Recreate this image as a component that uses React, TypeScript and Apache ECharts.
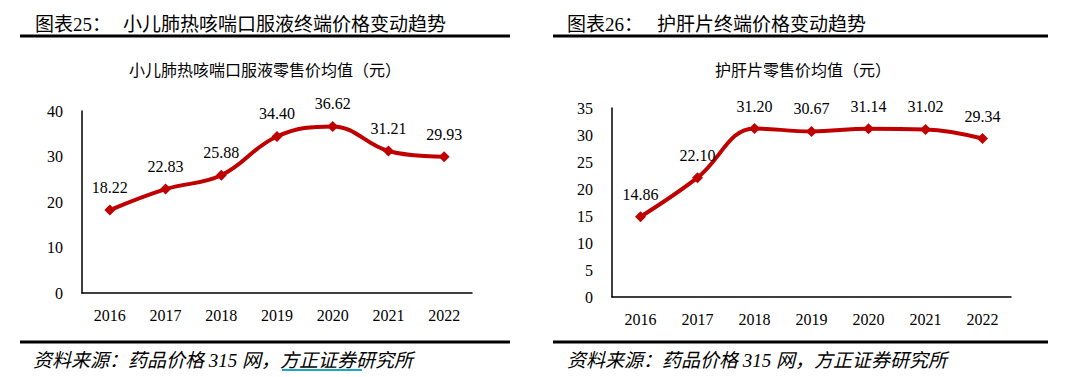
import React, { useEffect, useRef } from "react";
import * as echarts from "echarts";

const years = ["2016", "2017", "2018", "2019", "2020", "2021", "2022"];
const leftValues = [18.22, 22.83, 25.88, 34.4, 36.62, 31.21, 29.93];
const rightValues = [14.86, 22.1, 31.2, 30.67, 31.14, 31.02, 29.34];
const leftTitle = "图表25：";
const leftTitleText = "小儿肺热咳喘口服液终端价格变动趋势";
const rightTitle = "图表26：";
const rightTitleText = "护肝片终端价格变动趋势";
const leftSubtitle = "小儿肺热咳喘口服液零售价均值（元）";
const rightSubtitle = "护肝片零售价均值（元）";
const sourcePre = "资料来源：药品价格 315 网，";
const sourceLink = "方正证券";
const sourcePost = "研究所";

const FONT = "'Liberation Serif', 'Noto Sans CJK SC', serif";

export default function App() {
  const ref = useRef<HTMLDivElement>(null);
  useEffect(() => {
    document.body.style.margin = "0";
    const chart = echarts.init(ref.current!, undefined, { renderer: "svg" });
    const axisLabel = { color: "#000", fontSize: 16, fontFamily: FONT };
    const mkSeries = (data: number[], idx: number) => ({
      type: "line",
      xAxisIndex: idx,
      yAxisIndex: idx,
      data,
      smooth: 0.4,
      symbol: "diamond",
      symbolSize: 11,
      itemStyle: { color: "#C00000" },
      lineStyle: { color: "#C00000", width: 4 },
      label: {
        show: true,
        position: "top",
        distance: 9,
        color: "#000",
        fontSize: 16,
        fontFamily: FONT,
        formatter: (p: any) => p.value.toFixed(2),
      },
    });
    const xAxis = (idx: number) => ({
      type: "category",
      gridIndex: idx,
      data: years,
      axisLine: { lineStyle: { color: "#000", width: 1.5 } },
      axisTick: { show: false },
      axisLabel: { ...axisLabel, margin: 14 },
    });
    const yAxis = (idx: number, max: number, interval: number) => ({
      type: "value",
      gridIndex: idx,
      min: 0,
      max,
      interval,
      axisLine: { show: true, lineStyle: { color: "#000", width: 1.5 } },
      axisTick: { show: false },
      splitLine: { show: false },
      axisLabel: { ...axisLabel, margin: 19 },
    });
    const headerText = (x: number, text: string, size = 19) => ({
      type: "text",
      x,
      y: 24,
      style: { text, fontSize: size, fontFamily: FONT, fill: "#000", verticalAlign: "middle" },
    });
    const line = (x1: number, x2: number, y: number) => ({
      type: "line",
      shape: { x1, y1: y, x2, y2: y },
      style: { stroke: "#000", lineWidth: 3 },
    });
    const footer = (x: number, withUnderline: boolean) => {
      const els: any[] = [
        {
          type: "text",
          x,
          y: 360,
          style: {
            text: sourcePre + sourceLink + sourcePost,
            fontSize: 19,
            fontStyle: "italic",
            fontFamily: FONT,
            fill: "#000",
            verticalAlign: "middle",
          },
        },
      ];
      if (withUnderline) {
        els.push({
          type: "line",
          shape: { x1: x + 249, y1: 370, x2: x + 329, y2: 370 },
          style: { stroke: "#1FA6C7", lineWidth: 2 },
        });
      }
      return els;
    };
    chart.setOption({
      animation: false,
      backgroundColor: "#fff",
      grid: [
        { left: 82, right: 608, top: 111, bottom: 84 },
        { left: 612, right: 69, top: 108, bottom: 80 },
      ],
      xAxis: [xAxis(0), xAxis(1)],
      yAxis: [yAxis(0, 40, 10), yAxis(1, 35, 5)],
      series: [mkSeries(leftValues, 0), mkSeries(rightValues, 1)],
      graphic: [
        headerText(35, leftTitle),
        headerText(123, leftTitleText),
        headerText(567, rightTitle),
        headerText(657, rightTitleText),
        line(20, 510, 36),
        line(553, 1048, 36),
        {
          type: "text",
          x: 265,
          y: 70,
          style: { text: leftSubtitle, fontSize: 16, fontFamily: FONT, fill: "#000", align: "center", verticalAlign: "middle" },
        },
        {
          type: "text",
          x: 803,
          y: 70,
          style: { text: rightSubtitle, fontSize: 16, fontFamily: FONT, fill: "#000", align: "center", verticalAlign: "middle" },
        },
        line(20, 510, 342),
        line(553, 1048, 342),
        ...footer(33, true),
        ...footer(567, false),
      ],
    });
    return () => chart.dispose();
  }, []);
  return <div ref={ref} style={{ width: 1080, height: 377 }} />;
}
